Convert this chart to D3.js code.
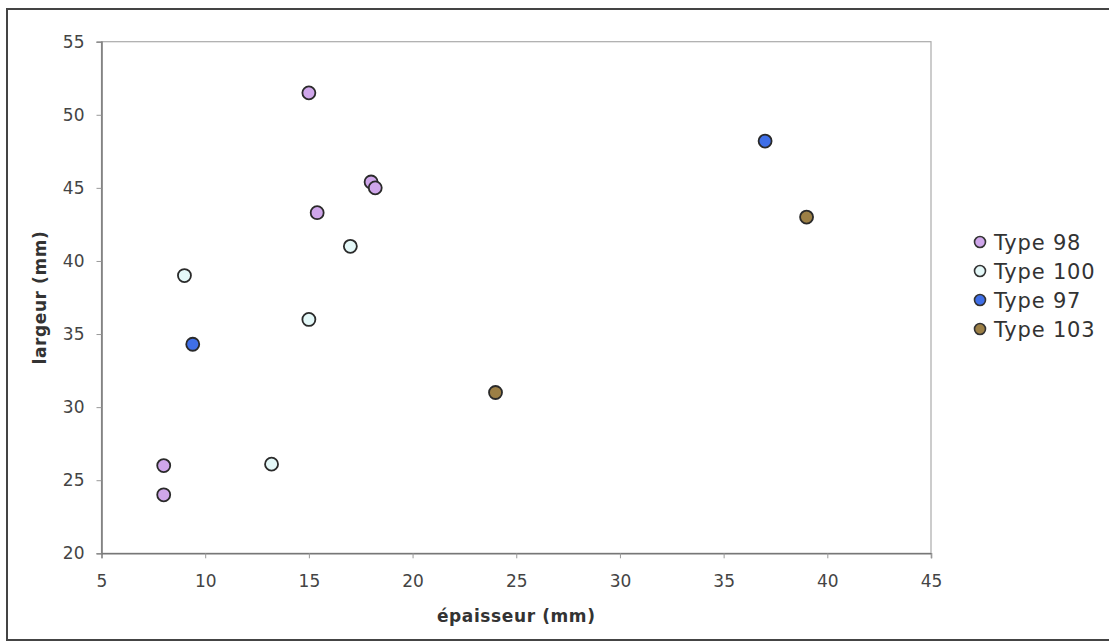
<!DOCTYPE html>
<html><head><meta charset="utf-8">
<script src="https://cdn.jsdelivr.net/npm/d3@7"></script>
<style>body{margin:0;background:#fff}svg{display:block}</style>
</head><body>
<script>
const seriesNames = ["Type 98", "Type 100", "Type 97", "Type 103"];
const seriesColors = ["#cfa6ea", "#e4f8f8", "#3f6fe8", "#9c7f45"];
const type98 = [[15, 51.5], [18, 45.4], [18.2, 45], [15.4, 43.3], [8, 26], [8, 24]];
const type100 = [[9, 39], [17, 41], [15, 36], [13.2, 26.1]];
const type97 = [[9.4, 34.3], [37, 48.2]];
const type103 = [[24, 31], [39, 43]];
const xTicks = [5, 10, 15, 20, 25, 30, 35, 40, 45];
const yTicks = [20, 25, 30, 35, 40, 45, 50, 55];
const xTitle = "épaisseur (mm)";
const yTitle = "largeur (mm)";

const W = 1109, H = 642;
const svg = d3.select("body").append("svg").attr("width", W).attr("height", H);
const font = "DejaVu Sans, Verdana, sans-serif";

// outer frame
svg.append("rect").attr("x", 7).attr("y", 9).attr("width", W + 10).attr("height", H - 11)
  .attr("fill", "none").attr("stroke", "#444").attr("stroke-width", 2);

const x = d3.scaleLinear().domain([5, 45]).range([101.5, 931]);
const y = d3.scaleLinear().domain([20, 55]).range([553.3, 41.7]);

// plot border (top/right)
svg.append("rect").attr("x", x(5)).attr("y", y(55)).attr("width", x(45) - x(5)).attr("height", y(20) - y(55))
  .attr("fill", "none").attr("stroke", "#aaa").attr("stroke-width", 1.2);

const gx = svg.append("g").attr("transform", `translate(0,${y(20)})`)
  .call(d3.axisBottom(x).tickValues(xTicks).tickSize(5).tickPadding(17));
const gy = svg.append("g").attr("transform", `translate(${x(5)},0)`)
  .call(d3.axisLeft(y).tickValues(yTicks).tickSize(5).tickPadding(12));
[gx, gy].forEach(g => {
  g.attr("font-size", null).attr("font-family", null);
  g.select(".domain").attr("stroke", "#777").attr("stroke-width", 1.5);
  g.selectAll(".tick line").attr("stroke", "#999");
  g.selectAll(".tick text").attr("fill", "#444").style("font-family", font).style("font-size", "17px");
});

svg.append("text").attr("x", (x(5) + x(45)) / 2).attr("y", 622).attr("text-anchor", "middle")
  .style("font-family", font).attr("font-weight", "bold").style("font-size", "17px").attr("letter-spacing", 0.6).attr("fill", "#333").text(xTitle);
svg.append("text").attr("transform", `translate(46,${(y(20) + y(55)) / 2}) rotate(-90)`).attr("text-anchor", "middle")
  .style("font-family", font).attr("font-weight", "bold").style("font-size", "17px").attr("letter-spacing", 0.6).attr("fill", "#333").text(yTitle);

const all = [type98, type100, type97, type103];
all.forEach((pts, i) => {
  svg.append("g").selectAll("circle").data(pts).join("circle")
    .attr("cx", d => x(d[0])).attr("cy", d => y(d[1])).attr("r", 6.5)
    .attr("fill", seriesColors[i]).attr("stroke", "#2a2a2a").attr("stroke-width", 1.8);
});

const leg = svg.append("g");
seriesNames.forEach((n, i) => {
  const yy = 242 + i * 29;
  leg.append("circle").attr("cx", 980).attr("cy", yy).attr("r", 5.5)
    .attr("fill", seriesColors[i]).attr("stroke", "#333").attr("stroke-width", 1.6);
  leg.append("text").attr("x", 994).attr("y", yy + 7.5).style("font-family", font).style("font-size", "21px")
    .attr("letter-spacing", 0.8).attr("fill", "#333").text(n);
});
</script>
</body></html>
